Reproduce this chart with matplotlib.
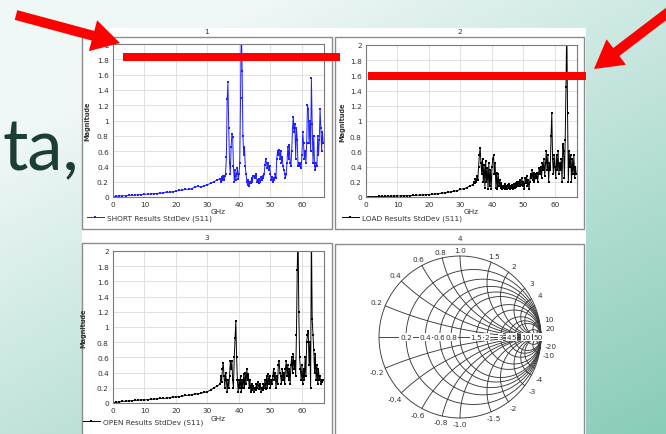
import numpy as np
import matplotlib.pyplot as plt
from matplotlib.patches import Rectangle, FancyArrow
from matplotlib.ticker import FuncFormatter, MultipleLocator

W, H = 666, 435

# ---------------------------------------------------------------------
# data (magnitude of StdDev S11 vs frequency)
# below 34 GHz in 1 GHz steps, from 34 GHz on in 0.25 GHz steps
# ---------------------------------------------------------------------
ghz_lo = np.arange(0, 34, 1.0)

short_lo = [0.005, 0.01, 0.012, 0.015, 0.018, 0.02, 0.022, 0.025, 0.03, 0.032,
            0.035, 0.037, 0.04, 0.042, 0.045, 0.05, 0.055, 0.065, 0.06, 0.07,
            0.075, 0.085, 0.09, 0.1, 0.1, 0.11, 0.13, 0.14, 0.13, 0.15,
            0.16, 0.18, 0.2, 0.22]
short_hi = [0.24, 0.2, 0.26, 0.22, 0.28, 0.22, 0.27, 0.3,
            0.52, 1.28, 1.5, 0.9, 0.45, 0.3, 0.65, 0.83,
            0.78, 0.4, 0.2, 0.35, 0.22, 0.3, 0.38, 0.24,
            0.3, 0.45, 1.3, 2.3, 1.65, 0.8, 0.55, 0.65,
            0.4, 0.3, 0.2, 0.16, 0.22, 0.15, 0.2, 0.18,
            0.25, 0.2, 0.27, 0.28, 0.25, 0.3, 0.27, 0.2,
            0.22, 0.18, 0.24, 0.2, 0.26, 0.22, 0.28, 0.25,
            0.3, 0.42, 0.5, 0.44, 0.38, 0.45, 0.35, 0.4,
            0.3, 0.22, 0.26, 0.2, 0.25, 0.22, 0.3, 0.25,
            0.5, 0.6, 0.55, 0.62, 0.5, 0.6, 0.45, 0.52,
            0.4, 0.35, 0.3, 0.25, 0.3, 0.45, 0.65, 0.5,
            0.68, 0.45, 0.4, 0.6, 0.9, 1.05, 0.85, 0.95,
            0.5, 0.9, 0.75, 0.4, 0.45, 0.4, 0.45, 0.38,
            0.55, 0.85, 0.7, 0.5, 0.6, 0.45, 0.7, 1.2,
            1.15, 0.7, 1.0, 0.6, 1.55, 0.95, 0.45, 0.8,
            0.4, 0.35, 0.45, 0.4, 0.8, 0.55, 0.75, 1.15,
            0.9, 0.6, 0.85, 0.7]

load_lo = [0.002, 0.004, 0.005, 0.006, 0.007, 0.008, 0.009, 0.01, 0.01, 0.012,
           0.013, 0.014, 0.015, 0.016, 0.018, 0.02, 0.022, 0.025, 0.027, 0.03,
           0.032, 0.035, 0.04, 0.045, 0.05, 0.055, 0.06, 0.07, 0.075, 0.085,
           0.1, 0.11, 0.12, 0.15]
load_hi = [0.16, 0.2, 0.18, 0.24, 0.2, 0.28, 0.22, 0.4,
           0.55, 0.65, 0.45, 0.3, 0.5, 0.2, 0.42, 0.12,
           0.48, 0.2, 0.38, 0.1, 0.45, 0.15, 0.35, 0.1,
           0.4, 0.5, 0.55, 0.3, 0.45, 0.12, 0.32, 0.1,
           0.3, 0.15, 0.22, 0.12, 0.18, 0.1, 0.15, 0.12,
           0.17, 0.11, 0.15, 0.1, 0.16, 0.12, 0.17, 0.1,
           0.15, 0.12, 0.16, 0.1, 0.17, 0.12, 0.18, 0.13,
           0.2, 0.15, 0.2, 0.14, 0.22, 0.16, 0.25, 0.15,
           0.2, 0.1, 0.25, 0.18, 0.28, 0.15, 0.22, 0.1,
           0.2, 0.3, 0.25, 0.35, 0.22, 0.32, 0.2, 0.3,
           0.25, 0.32, 0.2, 0.3, 0.38, 0.3, 0.4, 0.25,
           0.45, 0.35, 0.5, 0.28, 0.45, 0.6, 0.35, 0.55,
           0.2, 0.45, 0.35, 0.8, 1.1, 0.5, 0.3, 0.55,
           0.4, 0.25, 0.55, 0.35, 0.6, 0.3, 0.45, 0.35,
           0.5, 0.2, 0.7, 0.6, 0.25, 0.75, 1.45, 2.3,
           1.1, 0.2, 0.6, 0.4, 0.55, 0.2, 0.5, 0.3,
           0.55, 0.25, 0.4, 0.3]

open_lo = [0.005, 0.01, 0.015, 0.02, 0.025, 0.028, 0.03, 0.035, 0.038, 0.04,
           0.04, 0.045, 0.05, 0.05, 0.055, 0.06, 0.06, 0.065, 0.07, 0.08,
           0.08, 0.085, 0.09, 0.1, 0.1, 0.11, 0.12, 0.12, 0.13, 0.14,
           0.15, 0.17, 0.2, 0.22]
open_hi = [0.25, 0.35, 0.28, 0.45, 0.53, 0.35, 0.2, 0.4,
           0.3, 0.15, 0.3, 0.2, 0.35, 0.55, 0.45, 0.55,
           0.3, 0.2, 0.6, 0.85, 1.08, 0.6, 0.3, 0.15,
           0.3, 0.2, 0.35, 0.15, 0.3, 0.2, 0.38, 0.2,
           0.4, 0.25, 0.45, 0.3, 0.38, 0.2, 0.3, 0.15,
           0.25, 0.17, 0.22, 0.15, 0.2, 0.17, 0.25, 0.2,
           0.28, 0.22, 0.18, 0.25, 0.15, 0.2, 0.17, 0.25,
           0.2, 0.3, 0.18, 0.35, 0.2, 0.38, 0.25, 0.35,
           0.2, 0.3, 0.25, 0.35, 0.45, 0.3, 0.4, 0.2,
           0.35, 0.25, 0.5, 0.55, 0.4, 0.35, 0.25, 0.45,
           0.3, 0.4, 0.25, 0.45, 0.55, 0.35, 0.5, 0.3,
           0.45, 0.25, 0.5, 0.6, 0.4, 0.65, 0.45, 0.55,
           0.35, 0.9, 1.75, 2.3, 1.2, 0.6, 0.45, 0.3,
           0.5, 0.25, 0.45, 0.3, 0.6, 0.35, 0.8, 0.9,
           0.95, 0.5, 0.8, 0.2, 2.3, 1.1, 0.9, 0.7,
           0.4, 0.65, 0.3, 0.5, 0.25, 0.45, 0.3, 0.35,
           0.25, 0.3, 0.28, 0.3]

# smith chart grid values and labels
smith_r = [0.2, 0.4, 0.6, 0.8, 1.0, 1.5, 2, 3, 4, 5, 10, 20, 50]
smith_x = [0.2, 0.4, 0.6, 0.8, 1.0, 1.5, 2, 3, 4, 5, 10, 20, 50]
r_labels = ['0.2', '0.4', '0.6', '0.8', '1.5', '2', '3', '4', '5', '10', '50']
x_labels = ['0.2', '0.4', '0.6', '0.8', '1.0', '1.5', '2', '3', '4', '10', '20']


def series(lo, hi):
    f = np.concatenate([ghz_lo, 34 + 0.25 * np.arange(len(hi))])
    return f, np.concatenate([lo, hi])


fig = plt.figure(figsize=(W / 100, H / 100), dpi=100)
TXT = '#333333'
FS = 5.3


def px_axes(x0, y0, x1, y1):
    return fig.add_axes([x0 / W, 1 - y1 / H, (x1 - x0) / W, (y1 - y0) / H])


# background slide + screenshot card
bg = px_axes(0, 0, W, H)
bg.set_zorder(0)
yy, xx = np.mgrid[0:H, 0:W]
t = np.clip(yy / H * 0.6 + xx / W * 0.5 - 0.2, 0, 1)[..., None]
c0 = np.array([0.94, 0.97, 0.97])
c1 = np.array([0.49, 0.78, 0.70])
bg.imshow(c0 + (c1 - c0) * t, extent=(0, W, H, 0), aspect='auto')
bg.set_xlim(0, W)
bg.set_ylim(H, 0)
bg.axis('off')
bg.text(3, 170, 'ta,', fontsize=51, family='Lato', color='#1d3d38', va='baseline')
bg.add_patch(Rectangle((82, 29), 504, 410, fc='white', ec='none'))
frames = [(82, 38, 332, 230), (335, 38, 584, 230), (82, 244, 332, 440), (335, 245, 584, 440)]
for i, (x0, y0, x1, y1) in enumerate(frames):
    bg.add_patch(Rectangle((x0, y0), x1 - x0, y1 - y0, fill=False, ec='#8c8c8c', lw=1.0))
    bg.text((x0 + x1) / 2, y0 - 3, str(i + 1), fontsize=FS, color=TXT, ha='center', va='bottom')

panels = [
    ((113, 45, 324, 198), series(short_lo, short_hi), '#1f1fff', 'SHORT Results StdDev (S11)', (87, 219)),
    ((366, 46, 577, 198), series(load_lo, load_hi), 'black', 'LOAD Results StdDev (S11)', (342, 219)),
    ((113, 252, 324, 404), series(open_lo, open_hi), 'black', 'OPEN Results StdDev (S11)', (83, 423)),
]
for (x0, y0, x1, y1), (f, v), col, lab, (lx, ly) in panels:
    ax = px_axes(x0, y0, x1, y1)
    ax.set_zorder(1)
    ax.plot(f, v, color=col, lw=0.7, marker='s', ms=1.6, mew=0, label=lab)
    ax.set_xlim(0, 67)
    ax.set_ylim(0, 2)
    ax.xaxis.set_major_locator(MultipleLocator(10))
    ax.yaxis.set_major_locator(MultipleLocator(0.2))
    ax.yaxis.set_major_formatter(FuncFormatter(lambda y, p: f'{y:g}'))
    ax.grid(color='#dcdcdc', lw=0.6)
    ax.tick_params(length=0, pad=3, labelsize=FS, labelcolor=TXT)
    for s in ax.spines.values():
        s.set_color('#7a7a7a')
        s.set_linewidth(0.8)
    ax.set_xlabel('GHz', fontsize=FS, color=TXT)
    ax.xaxis.set_label_coords(0.5, -(212 - y1) / (y1 - y0) if y1 < 300 else -(419 - y1) / (y1 - y0))
    ax.xaxis.label.set_va('center')
    ax.set_ylabel('Magnitude', fontsize=4.8, color=TXT, fontweight='bold')
    ax.yaxis.set_label_coords(-(x0 - (lx + 3)) / (x1 - x0), 0.5)
    ax.legend(loc='center left', bbox_to_anchor=(lx / W, 1 - ly / H), bbox_transform=fig.transFigure,
              frameon=False, fontsize=FS, borderpad=0, borderaxespad=0, handlelength=2.3,
              handletextpad=0.35, numpoints=1, labelcolor=TXT)

# smith chart
sm = px_axes(360, 238, 560, 438)
sm.set_zorder(1)
R = 100 / 81
sm.set_xlim(-R, R)
sm.set_ylim(-R, R)
sm.axis('off')
lc = dict(color='#3a3a3a', lw=0.65)
th = np.linspace(0, 2 * np.pi, 400)
sm.plot(np.cos(th), np.sin(th), **lc)
sm.plot([-1, 1], [0, 0], **lc)
for r in smith_r:
    sm.plot(r / (1 + r) + np.cos(th) / (1 + r), np.sin(th) / (1 + r), **lc)
rr = np.concatenate([[0], np.logspace(-3, 4, 400)])
for x in smith_x:
    for s in (1, -1):
        g = (rr + 1j * s * x - 1) / (rr + 1j * s * x + 1)
        sm.plot(g.real, g.imag, **lc)
for lab in r_labels:
    r = float(lab)
    sm.text((r - 1) / (r + 1), 0, lab, fontsize=FS, color=TXT, ha='center', va='center',
            bbox=dict(fc='white', ec='none', pad=0.4))
for lab in x_labels:
    x = float(lab)
    a = np.pi - 2 * np.arctan(x)
    rad = 1.07 + 0.05 * abs(np.cos(a))
    for s, pre in ((1, ''), (-1, '-')):
        sm.text(rad * np.cos(a), s * rad * np.sin(a), pre + lab, fontsize=FS, color=TXT,
                ha='center', va='center')

# red annotations on top
fg = px_axes(0, 0, W, H)
fg.set_zorder(5)
fg.patch.set_visible(False)
fg.set_xlim(0, W)
fg.set_ylim(H, 0)
fg.axis('off')
fg.add_patch(FancyArrow(16, 16, 104, 28, width=10, head_width=32, head_length=28,
                        length_includes_head=True, fc='red', ec='none'))
fg.add_patch(FancyArrow(670, 12, -76, 58, width=10, head_width=32, head_length=28,
                        length_includes_head=True, fc='red', ec='none'))
fg.add_patch(Rectangle((123, 54), 217, 8, fc='red', ec='none'))
fg.add_patch(Rectangle((368, 73), 218, 8, fc='red', ec='none'))

fig.savefig('out.png', dpi=100)
